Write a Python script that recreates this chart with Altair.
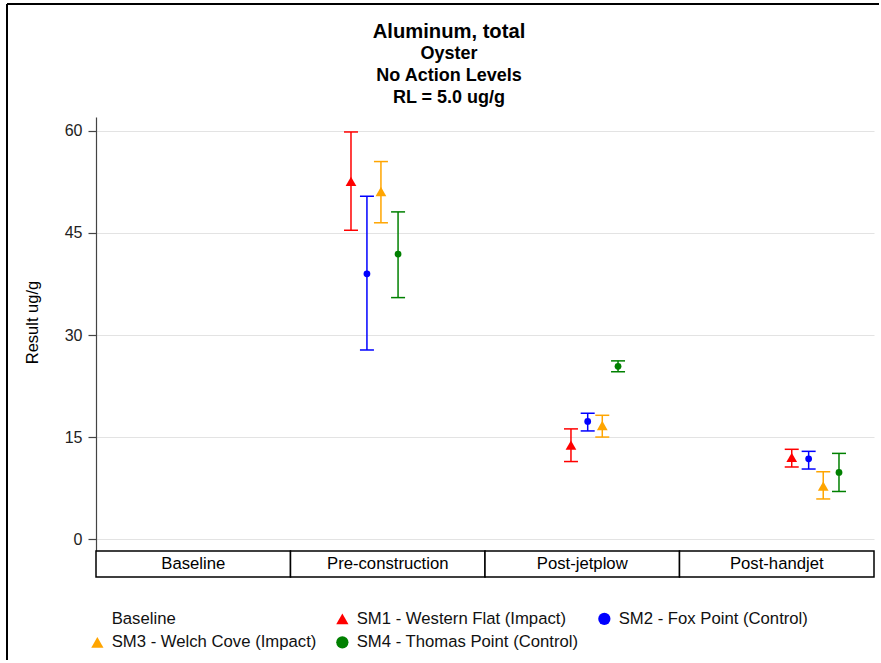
import altair as alt
import pandas as pd

# Study periods shown as labelled blocks under the plot
periods = ["Baseline", "Pre-construction", "Post-jetplow", "Post-handjet"]
period_start = [0, 1, 2, 3]
period_end = [1, 2, 3, 4]

# Legend entries (Baseline has no samples)
legend_labels = [
    "Baseline",
    "SM1 - Western Flat (Impact)",
    "SM2 - Fox Point (Control)",
    "SM3 - Welch Cove (Impact)",
    "SM4 - Thomas Point (Control)",
]

# Sampling results: station, sampling time (in period units), mean and range
sample_site = [
    "SM1 - Western Flat (Impact)", "SM2 - Fox Point (Control)",
    "SM3 - Welch Cove (Impact)", "SM4 - Thomas Point (Control)",
] * 3
sample_time = [1.311, 1.393, 1.465, 1.553,
               2.442, 2.528, 2.603, 2.684,
               3.577, 3.664, 3.739, 3.820]
result_mean = [52.6, 39.0, 51.1, 41.9,
               13.8, 17.3, 16.7, 25.4,
               12.0, 11.8, 7.8, 9.8]
result_lower = [45.4, 27.8, 46.5, 35.5,
                11.4, 15.9, 15.0, 24.6,
                10.6, 10.3, 5.9, 7.0]
result_upper = [59.85, 50.4, 55.5, 48.1,
                16.2, 18.5, 18.2, 26.2,
                13.2, 12.9, 9.9, 12.6]

y_ticks = [0, 15, 30, 45, 60]

title_lines = ["Aluminum, total", "Oyster", "No Action Levels", "RL = 5.0 ug/g"]

# Styling
FONT = "Liberation Sans"
TEXT_SIZE = 16.7
site_colors = ["transparent", "#ff0000", "#0000ff", "#ffa500", "#008000"]
site_shapes = ["circle", "triangle-up", "circle", "triangle-up", "circle"]
W, H = 778, 434
STRIP_H = 26

samples = pd.DataFrame({
    "site": sample_site,
    "time": sample_time,
    "mean": result_mean,
    "lower": result_lower,
    "upper": result_upper,
})
blocks = pd.DataFrame({
    "period": periods,
    "start": period_start,
    "end": period_end,
})
blocks["mid"] = (blocks["start"] + blocks["end"]) / 2
one = pd.DataFrame({"k": [0]})

triangle_sites = [s for s, sh in zip(legend_labels, site_shapes) if sh == "triangle-up"]
tri_samples = samples[samples["site"].isin(triangle_sites)]
dot_samples = samples[~samples["site"].isin(triangle_sites)]

x_scale = alt.Scale(domain=[0, 4], nice=False, zero=False)
y_scale = alt.Scale(domain=[-1.75, 62.05], nice=False, zero=False)
# error bar colours: stations only (kept apart from the legend scale)
stroke_scale = alt.Scale(domain=legend_labels[1:], range=site_colors[1:])
color_scale = alt.Scale(domain=legend_labels, range=site_colors)
shape_scale = alt.Scale(domain=legend_labels, range=site_shapes)
y_axis = alt.Axis(values=y_ticks, title="Result ug/g")


def xenc(field):
    return alt.X(field, type="quantitative", scale=x_scale, axis=None)


# Outer frame (left and top edges)
frame_left = alt.Chart(one).mark_rule(color="black", strokeWidth=2).encode(
    x=alt.value(-89), y=alt.value(-113), y2=alt.value(543)
)
frame_top = alt.Chart(one).mark_rule(color="black", strokeWidth=2).encode(
    x=alt.value(-89), x2=alt.value(783), y=alt.value(-113)
)

# Title block
title_layers = []
title_sizes = [20.2, 18, 18, 18]
title_y = [-85, -63, -41, -19]
for line, fs, ty in zip(title_lines, title_sizes, title_y):
    title_layers.append(
        alt.Chart(one).mark_text(
            text=line, font=FONT, fontSize=fs, fontWeight="bold",
            color="black", align="center", baseline="middle",
        ).encode(x=alt.value(353), y=alt.value(ty))
    )

# Period blocks under the plot
block_rects = alt.Chart(blocks).mark_rect(
    fill="white", stroke="black", strokeWidth=1.5
).encode(
    x=xenc("start"), x2="end",
    y=alt.value(H), y2=alt.value(H + STRIP_H),
)
block_text = alt.Chart(blocks).mark_text(
    font=FONT, fontSize=TEXT_SIZE, color="black", baseline="middle"
).encode(
    x=xenc("mid"), y=alt.value(H + STRIP_H / 2), text="period:N"
)

# Error bars with caps
bars = alt.Chart(samples).mark_rule(strokeWidth=1.5).encode(
    x=xenc("time"),
    y=alt.Y("lower:Q", scale=y_scale, axis=y_axis),
    y2="upper:Q",
    stroke=alt.Stroke("site:N", scale=stroke_scale, legend=None),
)
cap_hi = alt.Chart(samples).mark_rule(strokeWidth=1.5, xOffset=-7, x2Offset=7).encode(
    x=xenc("time"), x2="time:Q",
    y=alt.Y("upper:Q", scale=y_scale, axis=y_axis),
    stroke=alt.Stroke("site:N", scale=stroke_scale, legend=None),
)
cap_lo = alt.Chart(samples).mark_rule(strokeWidth=1.5, xOffset=-7, x2Offset=7).encode(
    x=xenc("time"), x2="time:Q",
    y=alt.Y("lower:Q", scale=y_scale, axis=y_axis),
    stroke=alt.Stroke("site:N", scale=stroke_scale, legend=None),
)


def marker_layer(df, size):
    return alt.Chart(df).mark_point(filled=True, opacity=1, size=size).encode(
        x=xenc("time"),
        y=alt.Y("mean:Q", scale=y_scale, axis=y_axis),
        color=alt.Color("site:N", title=None, scale=color_scale),
        shape=alt.Shape("site:N", title=None, scale=shape_scale),
    )


# Mean markers: triangles for impact stations, dots for control stations
points = marker_layer(tri_samples, 115) + marker_layer(dot_samples, 46)

chart = alt.layer(
    frame_left, frame_top, *title_layers,
    block_rects, block_text, bars, cap_hi, cap_lo, points,
).properties(
    width=W, height=H,
    padding={"left": 6, "top": 3, "right": 0, "bottom": 0},
    background="white",
).configure(
    font=FONT,
).configure_view(
    stroke="transparent",
).configure_axisY(
    domainColor="#444444", domainWidth=1.2,
    tickColor="#444444", tickSize=8, tickWidth=1.2,
    labelFont=FONT, labelFontSize=16, labelColor="#222222", labelPadding=6,
    titleFont=FONT, titleFontSize=16.5, titleFontWeight="normal", titleColor="black",
    titleX=-64, titleY=205, titleAngle=270, titleAlign="center", titleBaseline="middle",
    gridColor="#e3e3e3", gridWidth=1,
).configure_legend(
    orient="none", legendX=-7, legendY=493, columns=3, direction="horizontal",
    symbolSize=150, symbolStrokeWidth=0,
    labelFont=FONT, labelFontSize=TEXT_SIZE, labelColor="#111111", labelOffset=6,
    labelLimit=400, columnPadding=17, rowPadding=6, padding=0,
)

chart.save("out.html", embed_options={"renderer": "svg", "actions": False})
